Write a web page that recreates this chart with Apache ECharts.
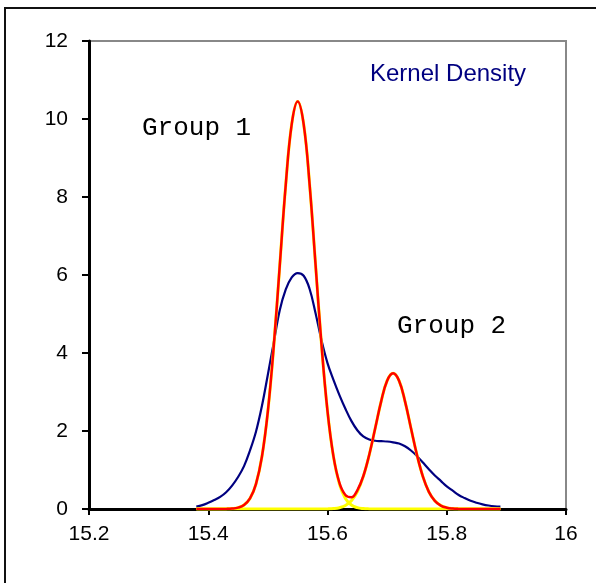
<!DOCTYPE html>
<html>
<head>
<meta charset="utf-8">
<script src="https://cdn.jsdelivr.net/npm/echarts@6/dist/echarts.min.js"></script>
<style>
  html, body { margin: 0; padding: 0; background: #fff; }
  #chart { width: 596px; height: 583px; }
</style>
</head>
<body>
<div id="chart"></div>
<script>
// sample positions along x
const xs = [15.38, 15.39, 15.40, 15.41, 15.42, 15.43, 15.44, 15.45, 15.46, 15.47,
  15.48, 15.49, 15.50, 15.51, 15.52, 15.53, 15.54, 15.55, 15.56, 15.57,
  15.58, 15.59, 15.60, 15.61, 15.62, 15.63, 15.64, 15.65, 15.66, 15.67,
  15.68, 15.69, 15.70, 15.71, 15.72, 15.73, 15.74, 15.75, 15.76, 15.77,
  15.78, 15.79, 15.80, 15.81, 15.82, 15.83, 15.84, 15.85, 15.86, 15.87,
  15.88, 15.89];

// kernel density (blue)
const kernel = [0.06, 0.10, 0.16, 0.23, 0.31, 0.43, 0.60, 0.82, 1.10, 1.50,
  1.98, 2.64, 3.45, 4.28, 5.10, 5.63, 5.94, 6.05, 5.98, 5.64,
  5.02, 4.32, 3.74, 3.31, 2.92, 2.57, 2.26, 2.02, 1.86, 1.78,
  1.75, 1.74, 1.73, 1.71, 1.68, 1.61, 1.50, 1.36, 1.19, 1.02,
  0.86, 0.72, 0.58, 0.47, 0.36, 0.28, 0.21, 0.16, 0.12, 0.09,
  0.07, 0.06];

// mixture (red)
const mixture = [0, 0, 0, 0, 0.001, 0.003, 0.011, 0.035, 0.103, 0.27,
  0.64, 1.34, 2.51, 4.20, 6.26, 8.32, 9.87, 10.45, 9.87, 8.32,
  6.26, 4.20, 2.51, 1.35, 0.67, 0.36, 0.30, 0.48, 0.84, 1.39,
  2.07, 2.76, 3.29, 3.48, 3.29, 2.76, 2.07, 1.39, 0.83, 0.44,
  0.21, 0.088, 0.033, 0.011, 0.003, 0.001, 0, 0, 0, 0,
  0, 0];

// group components (yellow)
const group1 = [0, 0, 0, 0, 0.001, 0.003, 0.011, 0.035, 0.103, 0.27,
  0.64, 1.34, 2.51, 4.20, 6.26, 8.32, 9.87, 10.45, 9.87, 8.32,
  6.26, 4.20, 2.51, 1.34, 0.64, 0.27, 0.103, 0.035, 0.011, 0.003,
  0.001, 0, 0, 0, 0, 0, 0, 0, 0, 0,
  0, 0, 0, 0, 0, 0, 0, 0, 0, 0,
  0, 0];
const group2 = [0, 0, 0, 0, 0, 0, 0, 0, 0, 0,
  0, 0, 0, 0, 0, 0, 0, 0, 0, 0,
  0, 0.001, 0.003, 0.011, 0.033, 0.088, 0.21, 0.44, 0.83, 1.39,
  2.07, 2.76, 3.29, 3.48, 3.29, 2.76, 2.07, 1.39, 0.83, 0.44,
  0.21, 0.088, 0.033, 0.011, 0.003, 0.001, 0, 0, 0, 0,
  0, 0];

const xTicks = { min: 15.2, max: 16, step: 0.2 };
const yTicks = { min: 0, max: 12, step: 2 };

function pairs(ys) {
  return xs.map((x, i) => [x, ys[i]]);
}

const chart = echarts.init(document.getElementById("chart"));

const lineSerie = (data, color, width) => ({
  type: "line",
  data: pairs(data),
  smooth: 0.4,
  showSymbol: false,
  symbol: "none",
  lineStyle: { color: color, width: width },
  animation: false,
});

const labelFont = "Liberation Sans, Arial, sans-serif";

chart.setOption({
  backgroundColor: "#fff",
  animation: false,
  grid: {
    left: 89,
    right: 30,
    top: 41,
    bottom: 74,
    show: true,
    borderColor: "#888",
    borderWidth: 2,
    backgroundColor: "#fff",
  },
  xAxis: {
    type: "value",
    min: xTicks.min,
    max: xTicks.max,
    interval: xTicks.step,
    axisLine: { show: true, onZero: false, lineStyle: { color: "#000", width: 3 } },
    axisTick: { show: true, inside: false, length: 6, lineStyle: { color: "#000", width: 2 } },
    splitLine: { show: false },
    axisLabel: {
      margin: 15,
      color: "#000",
      fontSize: 21,
      fontFamily: labelFont,
      formatter: (v) => String(+v.toFixed(1)),
    },
  },
  yAxis: {
    type: "value",
    min: yTicks.min,
    max: yTicks.max,
    interval: yTicks.step,
    axisLine: { show: true, lineStyle: { color: "#000", width: 3 } },
    axisTick: { show: true, inside: false, length: 7, lineStyle: { color: "#000", width: 2 } },
    splitLine: { show: false },
    axisLabel: {
      margin: 21,
      color: "#000",
      fontSize: 21,
      fontFamily: labelFont,
    },
  },
  series: [
    lineSerie(kernel, "#000080", 2.2),
    lineSerie(group1, "#ffff00", 3),
    lineSerie(group2, "#ffff00", 3),
    lineSerie(mixture, "#ff0000", 2.5),
  ],
  graphic: [
    {
      type: "rect",
      shape: { x: 5, y: 8, width: 620, height: 620 },
      style: { fill: null, stroke: "#111", lineWidth: 2 },
      z: 10,
    },
    {
      type: "text",
      left: 142,
      top: 115,
      style: {
        text: "Group 1",
        fill: "#000",
        font: "26px 'Liberation Mono', 'Courier New', monospace",
      },
    },
    {
      type: "text",
      left: 397,
      top: 313,
      style: {
        text: "Group 2",
        fill: "#000",
        font: "26px 'Liberation Mono', 'Courier New', monospace",
      },
    },
    {
      type: "text",
      left: 370,
      top: 62,
      style: {
        text: "Kernel Density",
        fill: "#000080",
        font: "24px 'Liberation Sans', Arial, sans-serif",
      },
    },
  ],
});
</script>
</body>
</html>
